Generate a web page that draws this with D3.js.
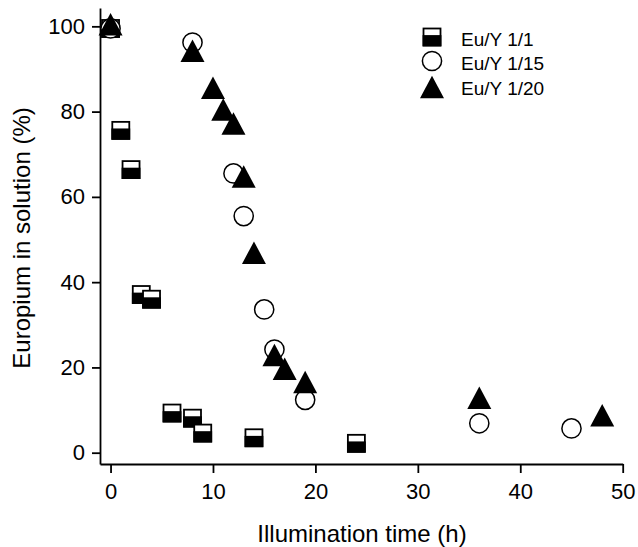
<!DOCTYPE html>
<html>
<head>
<meta charset="utf-8">
<script src="https://cdn.jsdelivr.net/npm/d3@7"></script>
<style>
  html, body { margin: 0; padding: 0; background: #fff; }
  svg { display: block; font-family: "Liberation Sans", Arial, sans-serif; }
</style>
</head>
<body>
<svg id="chart" width="638" height="547"></svg>
<script>
// ---- data ----
const seriesNames = ["Eu/Y 1/1", "Eu/Y 1/15", "Eu/Y 1/20"];

const timeEu1 = [0, 1, 2, 3, 4, 6, 8, 9, 14, 24];
const valEu1  = [99.5, 75.6, 66.4, 37.1, 36.0, 9.3, 8.1, 4.6, 3.5, 2.2];

const timeEu15 = [0, 8, 12, 13, 15, 16, 19, 36, 45];
const valEu15  = [99.5, 96.2, 65.5, 55.5, 33.6, 24.2, 12.4, 6.9, 5.7];

const timeEu20 = [0, 8, 10, 11, 12, 13, 14, 16, 17, 19, 36, 48];
const valEu20  = [100.5, 94.3, 85.6, 80.5, 77.2, 64.8, 46.9, 22.9, 19.7, 16.6, 12.9, 8.8];

const xTicks = [0, 10, 20, 30, 40, 50];
const yTicks = [0, 20, 40, 60, 80, 100];

const xTitle = "Illumination time (h)";
const yTitle = "Europium in solution (%)";

// ---- layout ----
const svg = d3.select("#chart");
const x = d3.scaleLinear().domain([-1.03, 50]).range([100, 622.7]);
const y = d3.scaleLinear().domain([-2.65, 104.3]).range([464, 8]);

const font = "'Liberation Sans', Arial, sans-serif";

// axes
const xAxis = svg.append("g")
  .attr("transform", "translate(0,464)")
  .call(d3.axisBottom(x).tickValues(xTicks).tickFormat(d3.format("d"))
        .tickSize(9).tickSizeOuter(0).tickPadding(10));
const yAxis = svg.append("g")
  .attr("transform", "translate(100,0)")
  .call(d3.axisLeft(y).tickValues(yTicks).tickFormat(d3.format("d"))
        .tickSize(8).tickSizeOuter(0).tickPadding(7));

[xAxis, yAxis].forEach(g => {
  g.select(".domain").attr("stroke", "#000").attr("stroke-width", 1.8);
  g.selectAll(".tick line").attr("stroke", "#000").attr("stroke-width", 1.8);
  g.selectAll(".tick text").attr("fill", "#000")
    .style("font-family", font).style("font-size", "22px");
});

// titles
svg.append("text")
  .attr("x", 362).attr("y", 542)
  .attr("text-anchor", "middle")
  .style("font-family", font).style("font-size", "24px")
  .text(xTitle);
svg.append("text")
  .attr("transform", "translate(30,238) rotate(-90)")
  .attr("text-anchor", "middle")
  .style("font-family", font).style("font-size", "24px")
  .text(yTitle);

// marker drawers
const SQ = 17, CR = 9.6, TW = 24, TH = 22.5;
function drawSquare(g, cx, cy) {
  g.append("rect").attr("x", cx - SQ / 2).attr("y", cy - SQ / 2)
    .attr("width", SQ).attr("height", SQ)
    .attr("fill", "#fff").attr("stroke", "#000").attr("stroke-width", 1.8);
  g.append("rect").attr("x", cx - SQ / 2).attr("y", cy - 1)
    .attr("width", SQ).attr("height", SQ / 2 + 1)
    .attr("fill", "#000").attr("stroke", "#000").attr("stroke-width", 1.8);
}
function drawCircle(g, cx, cy) {
  g.append("circle").attr("cx", cx).attr("cy", cy).attr("r", CR)
    .attr("fill", "#fff").attr("stroke", "#000").attr("stroke-width", 1.5);
}
function drawTriangle(g, cx, cy) {
  g.append("path")
    .attr("d", `M${cx},${cy - TH / 2}L${cx + TW / 2},${cy + TH / 2}L${cx - TW / 2},${cy + TH / 2}Z`)
    .attr("fill", "#000");
}

const plot = svg.append("g");
const gSq = plot.append("g"), gCi = plot.append("g"), gTr = plot.append("g");
timeEu1.forEach((t, i) => drawSquare(gSq, x(t), y(valEu1[i])));
timeEu15.forEach((t, i) => drawCircle(gCi, x(t), y(valEu15[i])));
timeEu20.forEach((t, i) => drawTriangle(gTr, x(t), y(valEu20[i])));

// legend
const legend = svg.append("g");
const legendRows = [
  { name: seriesNames[0], draw: drawSquare, my: 37, ty: 46 },
  { name: seriesNames[1], draw: drawCircle, my: 61, ty: 69.5 },
  { name: seriesNames[2], draw: drawTriangle, my: 87, ty: 95 }
];
legendRows.forEach(r => {
  r.draw(legend, 432, r.my);
  legend.append("text").attr("x", 461).attr("y", r.ty)
    .style("font-family", font).style("font-size", "19px")
    .text(r.name);
});
</script>
</body>
</html>
